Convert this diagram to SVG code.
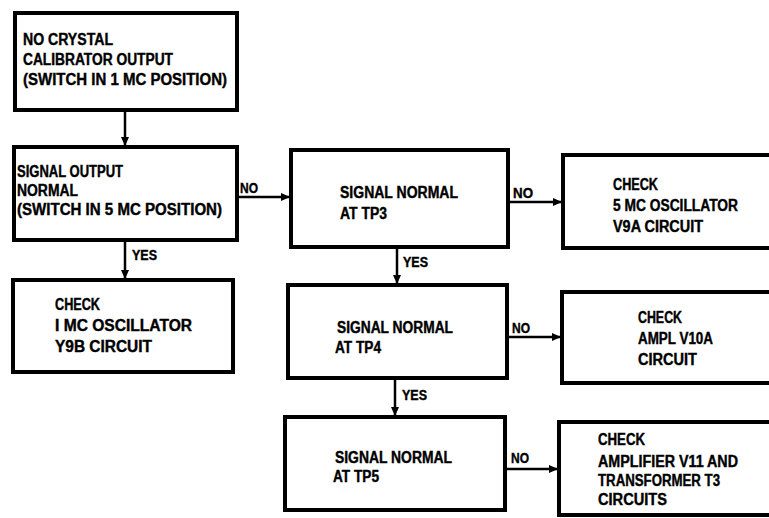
<svg xmlns="http://www.w3.org/2000/svg" width="769" height="518" viewBox="0 0 769 518">
<style>
.box{fill:#fff;stroke:#000;stroke-width:4}
.t{font-family:"Liberation Sans",Arial,sans-serif;font-weight:bold;font-size:16px;fill:#000;stroke:#000;stroke-width:0.4}
.l{font-family:"Liberation Sans",Arial,sans-serif;font-weight:bold;font-size:15px;fill:#000;stroke:#000;stroke-width:0.4}
.c{fill:none;stroke:#000;stroke-width:2.5}
</style>
<defs>
<marker id="ah" markerWidth="10" markerHeight="10" refX="9" refY="5" orient="auto" markerUnits="userSpaceOnUse">
<path d="M0,1 L9,5 L0,9 Z" fill="#000"/>
</marker>
</defs>
<rect width="769" height="518" fill="#fff"/>
<g id="connectors">
<line class="c" x1="125" y1="110" x2="125" y2="146" marker-end="url(#ah)"/>
<line class="c" x1="237" y1="197" x2="290" y2="197" marker-end="url(#ah)"/>
<line class="c" x1="125" y1="240" x2="125" y2="279" marker-end="url(#ah)"/>
<line class="c" x1="508" y1="202" x2="562" y2="202" marker-end="url(#ah)"/>
<line class="c" x1="397" y1="247" x2="397" y2="284" marker-end="url(#ah)"/>
<line class="c" x1="507" y1="337" x2="561" y2="337" marker-end="url(#ah)"/>
<line class="c" x1="395" y1="378" x2="395" y2="416" marker-end="url(#ah)"/>
<line class="c" x1="505" y1="469" x2="558" y2="469" marker-end="url(#ah)"/>
<text class="l" x="240" y="193" textLength="18" lengthAdjust="spacingAndGlyphs">NO</text>
<text class="l" x="132" y="260" textLength="25" lengthAdjust="spacingAndGlyphs">YES</text>
<text class="l" x="513" y="198" textLength="20" lengthAdjust="spacingAndGlyphs">NO</text>
<text class="l" x="403" y="267" textLength="25" lengthAdjust="spacingAndGlyphs">YES</text>
<text class="l" x="402" y="400" textLength="25" lengthAdjust="spacingAndGlyphs">YES</text>
<text class="l" x="512" y="333" textLength="18" lengthAdjust="spacingAndGlyphs">NO</text>
<text class="l" x="511" y="463" textLength="18" lengthAdjust="spacingAndGlyphs">NO</text>
</g>
<g id="n1">
<rect class="box" x="15" y="13" width="222" height="97"/>
<text class="t" x="23" y="45" textLength="90" lengthAdjust="spacingAndGlyphs">NO CRYSTAL</text>
<text class="t" x="23" y="65" textLength="150" lengthAdjust="spacingAndGlyphs">CALIBRATOR OUTPUT</text>
<text class="t" x="23" y="85" textLength="204" lengthAdjust="spacingAndGlyphs">(SWITCH IN 1 MC POSITION)</text>
</g>
<g id="n2">
<rect class="box" x="14" y="147" width="223" height="93"/>
<text class="t" x="17" y="177" textLength="106" lengthAdjust="spacingAndGlyphs">SIGNAL OUTPUT</text>
<text class="t" x="17" y="196" textLength="61" lengthAdjust="spacingAndGlyphs">NORMAL</text>
<text class="t" x="17" y="215" textLength="205" lengthAdjust="spacingAndGlyphs">(SWITCH IN 5 MC POSITION)</text>
</g>
<g id="n3">
<rect class="box" x="13" y="280" width="220" height="92"/>
<text class="t" x="55" y="310" textLength="45" lengthAdjust="spacingAndGlyphs">CHECK</text>
<text class="t" x="55" y="331" textLength="137" lengthAdjust="spacingAndGlyphs">I MC OSCILLATOR</text>
<text class="t" x="55" y="352" textLength="97" lengthAdjust="spacingAndGlyphs">Y9B CIRCUIT</text>
</g>
<g id="n4">
<rect class="box" x="291" y="150" width="217" height="97"/>
<text class="t" x="340" y="198" textLength="118" lengthAdjust="spacingAndGlyphs">SIGNAL NORMAL</text>
<text class="t" x="340" y="219" textLength="47" lengthAdjust="spacingAndGlyphs">AT TP3</text>
</g>
<g id="n5">
<rect class="box" x="288" y="285" width="219" height="93"/>
<text class="t" x="337" y="333" textLength="116" lengthAdjust="spacingAndGlyphs">SIGNAL NORMAL</text>
<text class="t" x="335" y="353" textLength="46" lengthAdjust="spacingAndGlyphs">AT TP4</text>
</g>
<g id="n6">
<rect class="box" x="285" y="417" width="220" height="93"/>
<text class="t" x="335" y="463" textLength="117" lengthAdjust="spacingAndGlyphs">SIGNAL NORMAL</text>
<text class="t" x="333" y="482" textLength="46" lengthAdjust="spacingAndGlyphs">AT TP5</text>
</g>
<g id="n7">
<rect class="box" x="563" y="155" width="220" height="93"/>
<text class="t" x="613" y="190" textLength="45" lengthAdjust="spacingAndGlyphs">CHECK</text>
<text class="t" x="613" y="211" textLength="125" lengthAdjust="spacingAndGlyphs">5 MC OSCILLATOR</text>
<text class="t" x="613" y="232" textLength="90" lengthAdjust="spacingAndGlyphs">V9A CIRCUIT</text>
</g>
<g id="n8">
<rect class="box" x="562" y="292" width="220" height="91"/>
<text class="t" x="638" y="323" textLength="44" lengthAdjust="spacingAndGlyphs">CHECK</text>
<text class="t" x="638" y="344" textLength="75" lengthAdjust="spacingAndGlyphs">AMPL V10A</text>
<text class="t" x="638" y="365" textLength="59" lengthAdjust="spacingAndGlyphs">CIRCUIT</text>
</g>
<g id="n9">
<rect class="box" x="559" y="422" width="222" height="93"/>
<text class="t" x="598" y="445" textLength="47" lengthAdjust="spacingAndGlyphs">CHECK</text>
<text class="t" x="598" y="467" textLength="140" lengthAdjust="spacingAndGlyphs">AMPLIFIER V11 AND</text>
<text class="t" x="598" y="486" textLength="122" lengthAdjust="spacingAndGlyphs">TRANSFORMER T3</text>
<text class="t" x="598" y="505" textLength="69" lengthAdjust="spacingAndGlyphs">CIRCUITS</text>
</g>
</svg>
